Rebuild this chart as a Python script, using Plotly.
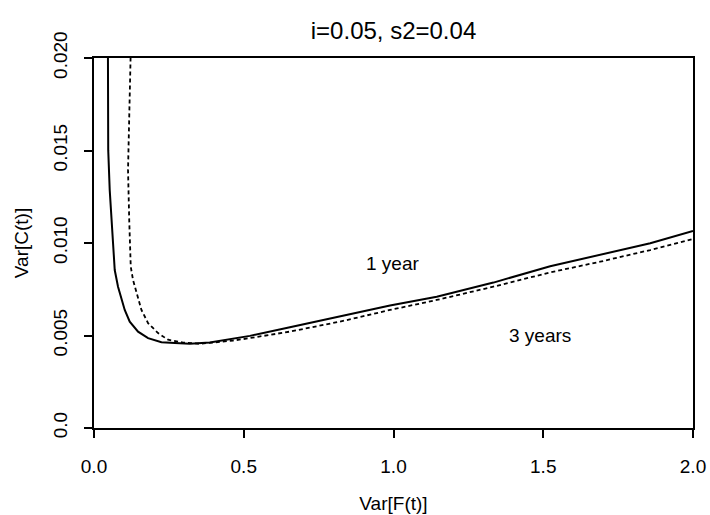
import plotly.graph_objects as go

# Data
one_year_x = [0.0465, 0.0475, 0.0525, 0.0692, 0.0802, 0.1026, 0.1193, 0.1471, 0.1805,
              0.2253, 0.2697, 0.3199, 0.3867, 0.4535, 0.5204, 0.6541, 0.8212, 0.9883,
              1.1444, 1.3336, 1.5231, 1.6902, 1.8573, 2.0]
one_year_y = [0.02041, 0.01502, 0.01286, 0.00854, 0.00764, 0.00638, 0.00575, 0.00521, 0.00486,
              0.00464, 0.00459, 0.00455, 0.00462, 0.00480, 0.00498, 0.00545, 0.00602, 0.00662,
              0.00710, 0.00786, 0.00874, 0.00935, 0.00999, 0.01065]

three_years_x = [0.1227, 0.1176, 0.1136, 0.1176, 0.1227, 0.1303, 0.1417, 0.1584, 0.1805,
                 0.2139, 0.2473, 0.2975, 0.3533, 0.4091, 0.4646, 0.5204, 0.6541, 0.8212,
                 0.9883, 1.1444, 1.3336, 1.5231, 1.6902, 1.8573, 2.0]
three_years_y = [0.02041, 0.01718, 0.01394, 0.01124, 0.00872, 0.00800, 0.00729, 0.00638, 0.00567,
                 0.00513, 0.00477, 0.00462, 0.00455, 0.00462, 0.00473, 0.00486, 0.00521, 0.00575,
                 0.00638, 0.00692, 0.00764, 0.00841, 0.00899, 0.00962, 0.01022]

x_tickvals = [0.0, 0.5, 1.0, 1.5, 2.0]
x_ticktext = ["0.0", "0.5", "1.0", "1.5", "2.0"]
y_tickvals = [0.0, 0.005, 0.010, 0.015, 0.020]
y_ticktext = ["0.0", "0.005", "0.010", "0.015", "0.020"]

labels = ["1 year", "3 years"]
label_x = [0.995, 1.49]
label_y = [0.00887, 0.00498]

FONT = "Liberation Sans, Arial, sans-serif"
FS = 19

fig = go.Figure()
fig.add_trace(go.Scatter(x=one_year_x, y=one_year_y, mode="lines",
                         line=dict(color="black", width=2), showlegend=False))
fig.add_trace(go.Scatter(x=three_years_x, y=three_years_y, mode="lines",
                         line=dict(color="black", width=1.8, dash="4px,3px"), showlegend=False))

for t, lx, ly in zip(labels, label_x, label_y):
    fig.add_annotation(x=lx, y=ly, text=t, showarrow=False,
                       font=dict(family=FONT, size=FS, color="black"))

axis_common = dict(showline=True, linecolor="black", linewidth=1.5, mirror=True,
                   ticks="outside", ticklen=8, tickwidth=1.5, tickcolor="black",
                   showgrid=False, zeroline=False, automargin=False,
                   tickfont=dict(family=FONT, size=FS, color="black"))

fig.update_xaxes(range=[0, 2], tickvals=x_tickvals, ticktext=x_ticktext,
                 ticklabelstandoff=12,
                 title=dict(text="Var[F(t)]", font=dict(family=FONT, size=FS, color="black"),
                            standoff=21),
                 **axis_common)
fig.update_yaxes(range=[0, 0.02], tickvals=y_tickvals, ticktext=y_ticktext, tickangle=-90,
                 ticklabelstandoff=10,
                 title=dict(text="Var[C(t)]", font=dict(family=FONT, size=FS, color="black"),
                            standoff=16),
                 **axis_common)

fig.update_layout(
    width=710, height=515,
    margin=dict(l=94, r=17, t=58, b=87),
    paper_bgcolor="white", plot_bgcolor="white",
    title=dict(text="i=0.05, s2=0.04", x=0.5, xref="paper", xanchor="center",
               y=0.94, yanchor="middle",
               font=dict(family=FONT, size=24, color="black")),
)

fig.write_html("out.html")
